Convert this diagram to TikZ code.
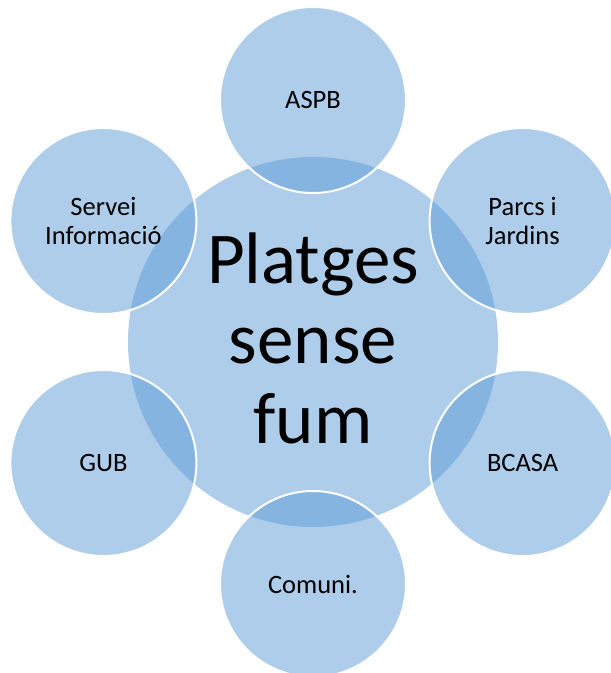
\documentclass[tikz,border=0pt]{standalone}
\usepackage{fontspec}
\setmainfont{Carlito}
\definecolor{accent}{HTML}{5B9BD5}
\begin{document}
\begin{tikzpicture}[x=1pt,y=-1pt,
  hub/.style={circle, fill=accent, fill opacity=0.5, text opacity=1, minimum size=370pt, inner sep=0pt, font=\fontsize{72}{80}\selectfont, align=center},
  sat/.style={circle, fill=accent, fill opacity=0.5, draw=white, draw opacity=1, line width=2pt, text opacity=1, minimum size=186pt, inner sep=0pt, font=\fontsize{26.5}{29}\selectfont, align=center}]
\useasboundingbox (0,0) rectangle (611,673);
\clip (0,0) rectangle (611,673);
\node[hub] (hub) at (313,342) {};
\node[sat] (aspb) at (313,100) {ASPB};
\node[sat] (parcs) at (522.6,221) {Parcs i\\Jardins};
\node[sat] (bcasa) at (522.6,463) {BCASA};
\node[sat] (comuni) at (313,584) {Comuni.};
\node[sat] (gub) at (103.4,463) {GUB};
\node[sat] (servei) at (103.4,221) {Servei\\Informació};
\node[font=\fontsize{73}{80}\selectfont, align=center, inner sep=0pt] (title) at (313,338) {Platges\\sense\\fum};
\end{tikzpicture}
\end{document}
